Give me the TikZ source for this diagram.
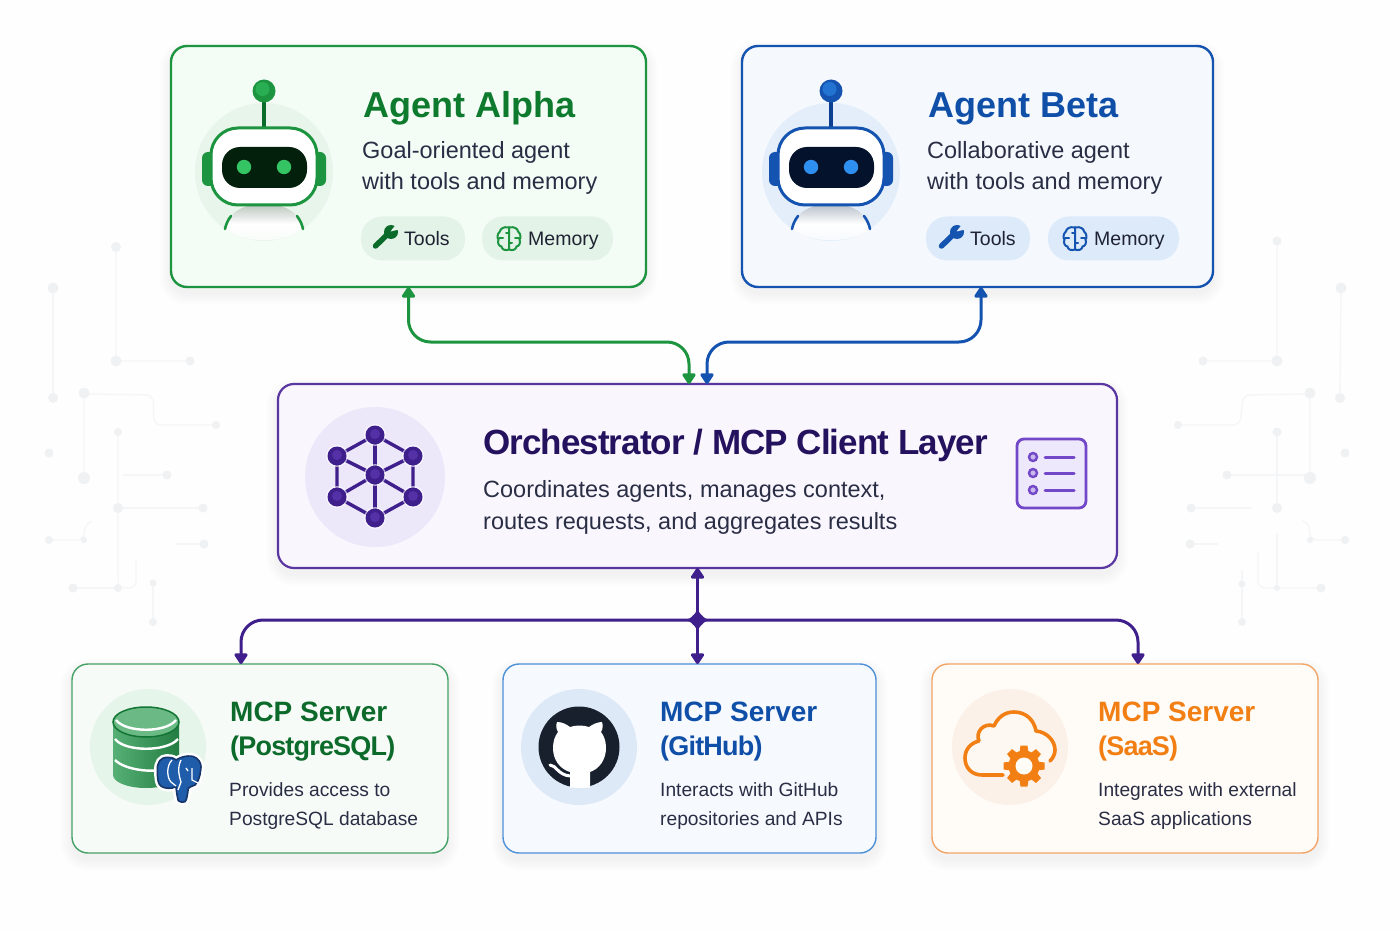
\documentclass[tikz,border=0pt]{standalone}
\usepackage{fontspec}
\setmainfont{Liberation Sans}
\newfontfamily\tightbold[LetterSpace=-2.7]{Liberation Sans}
\newfontfamily\tighterbold[LetterSpace=-3]{Liberation Sans}
\usetikzlibrary{arrows.meta,calc}
\newcommand{\fsz}[1]{\fontsize{#1}{#1}\selectfont}
\definecolor{bgc}{HTML}{FEFEFE}
\definecolor{circ}{HTML}{F5F6F7}
\definecolor{circd}{HTML}{F0F1F3}
\definecolor{gline}{HTML}{1C9440}
\definecolor{gtitle}{HTML}{0E7A2E}
\definecolor{gfill}{HTML}{F4FCF6}
\definecolor{gpill}{HTML}{E3F3E7}
\definecolor{gdisc}{HTML}{E8F5EB}
\definecolor{gdark}{HTML}{0B6B2B}
\definecolor{gbright}{HTML}{35C463}
\definecolor{bline}{HTML}{1553B0}
\definecolor{btitle}{HTML}{0F4FA8}
\definecolor{bfill}{HTML}{F5F9FE}
\definecolor{bpill}{HTML}{DCEAFA}
\definecolor{bdisc}{HTML}{E3EEFA}
\definecolor{bdark}{HTML}{0D3E8F}
\definecolor{bbright}{HTML}{2F8FF0}
\definecolor{pline}{HTML}{5A36A0}
\definecolor{pdark}{HTML}{3E1F8C}
\definecolor{ptitle}{HTML}{24125E}
\definecolor{pfill}{HTML}{F9F6FE}
\definecolor{pdisc}{HTML}{EDE7FA}
\definecolor{licon}{HTML}{7248C8}
\definecolor{lfill}{HTML}{EEE8FC}
\definecolor{sgline}{HTML}{45A066}
\definecolor{sgfill}{HTML}{F7FBF8}
\definecolor{sgdisc}{HTML}{E6F5EA}
\definecolor{sgt}{HTML}{0C6A2A}
\definecolor{dbg}{HTML}{2C9C52}
\definecolor{sbline}{HTML}{4C90D8}
\definecolor{sbfill}{HTML}{F6FAFE}
\definecolor{sbdisc}{HTML}{DDE9F7}
\definecolor{ghdark}{HTML}{18202E}
\definecolor{soline}{HTML}{F2A566}
\definecolor{sofill}{HTML}{FFFBF7}
\definecolor{sodisc}{HTML}{FCF1E8}
\definecolor{orange}{HTML}{F27F14}
\definecolor{body}{HTML}{2A2E45}
\definecolor{pillink}{HTML}{1E2233}
\definecolor{pgblue}{HTML}{1F5CAA}
\definecolor{pgnavy}{HTML}{15356B}
\tikzset{
  x=1pt,y=-1pt,
  panel/.style={draw,rounded corners=#1,inner sep=0,outer sep=0},
  txt/.style={anchor=base west,inner sep=0,text=body},
  pilltxt/.style={txt,text=pillink,font=\fsz{19.5}},
  sdesc/.style={txt,font=\fsz{19.2}},
  trace/.style={draw=circ,line width=1.4pt,rounded corners=7pt},
  pin/.style={fill=circd,draw=none},
  pillbox/.style={rounded corners=21pt,inner sep=0,draw=none},
  wire/.style={line width=3pt,rounded corners=22pt,{Triangle[length=12pt,width=15pt,round]}-{Triangle[length=12pt,width=15pt,round]}},
}
\newcommand{\boxnode}[8]{% name, x1,y1,x2,y2, border, fill, lw
  \foreach \k in {1,...,12}
    \fill[black,opacity=.005,rounded corners=16+\k] (#2-\k,#3+6-\k) rectangle (#4+\k,#5+6+\k);
  \node[panel=16pt,draw=#6,fill=#7,line width=#8,minimum width=#4pt-#2pt,minimum height=#5pt-#3pt,anchor=north west] (#1) at (#2,#3) {};}
\newcommand{\robotat}[6]{% x, disc, line, dark, bright, visor
  \begin{scope}[shift={(#1,172)}]
    \fill[#2] (0,0) circle[radius=69];
    \shade[top color=#2!80!black,bottom color=#2!40!white,middle color=white] (-39,57) .. controls (-36,40) and (-20,32) .. (0,32) .. controls (20,32) and (36,40) .. (39,57) .. controls (20,72) and (-20,72) .. (-39,57) -- cycle;
    \draw[#3,line width=2.6pt,line cap=round] (-39,57) .. controls (-38,52) and (-36,48) .. (-33,44);
    \draw[#3,line width=2.6pt,line cap=round] (39,57) .. controls (38,52) and (36,48) .. (33,44);
    \draw[#4,line width=4pt] (0,-78) -- (0,-44);
    \fill[#4] (-10,-44) arc[start angle=180,end angle=360,x radius=10,y radius=-8] -- cycle;
    \fill[#3] (0,-81) circle[radius=11.5];
    \fill[#5,opacity=.55] (-1.5,-83) circle[radius=7];
    \fill[#3,rounded corners=6pt] (-62,-20) rectangle (-46,14);
    \fill[#3,rounded corners=6pt] (46,-20) rectangle (62,14);
    \draw[#3,line width=3pt,fill=white,rounded corners=27pt] (-53,-44) rectangle (53,33);
    \fill[#6,rounded corners=18pt] (-42,-25) rectangle (43,16);
    \fill[#5] (-20,-5) circle[radius=7.2];
    \fill[#5] (20,-5) circle[radius=7.2];
  \end{scope}}
\newcommand{\wrenchat}[3]{% x, colour, pill
  \begin{scope}[shift={(#1,238)}]
    \draw[#2,line width=5.5pt,line cap=round] (-9.5,8) -- (5,-6);
    \fill[#2] (6,-6) circle[radius=7];
    \fill[#3] (5.5,-6.5) -- (12,-15) -- (16,-9) -- cycle;
  \end{scope}}
\newcommand{\brainat}[3]{% x, colour, pill
  \begin{scope}[shift={(#1,238.5)},#2,line width=2pt,line cap=round]
    \draw (0,-11) .. controls (-6,-12.5) and (-9,-9) .. (-9,-7) .. controls (-12,-5) and (-12,0) .. (-10.5,1)
       .. controls (-12,4) and (-10,8) .. (-7.5,8) .. controls (-7,11) and (-4,12.5) .. (0,11) -- cycle;
    \draw (0,-11) .. controls (6,-12.5) and (9,-9) .. (9,-7) .. controls (12,-5) and (12,0) .. (10.5,1)
       .. controls (12,4) and (10,8) .. (7.5,8) .. controls (7,11) and (4,12.5) .. (0,11);
    \draw (-10,0) -- (-6,0) (10,0) -- (6,0) (0,-5) -- (-3,-5) (0,5) -- (3,5);
  \end{scope}}
\begin{document}
\begin{tikzpicture}
\useasboundingbox (0,0) rectangle (1400,933);
\fill[bgc] (0,0) rectangle (1400,933);

% faint circuit traces, left
\draw[trace] (116,247) -- (116,361) -- (190,361);
\draw[trace] (53,288) -- (53,398);
\draw[trace] (84,478) -- (84,394) -- (153,395) -- (154,425) -- (216,425);
\draw[trace] (118,432) -- (118,588) -- (136,588) -- (136,560);
\draw[trace] (123,475) -- (167,475);
\draw[trace] (118,508) -- (203,508);
\draw[trace] (49,540) -- (84,540) -- (85,523) -- (90,522);
\draw[trace] (175,544) -- (204,544);
\draw[trace] (73,588) -- (118,588);
\draw[trace] (153,583) -- (153,622);
\foreach \px/\py/\pr in {116/247/5,116/361/5.5,190/361/4.5,53/288/5.5,53/398/5,84/393/5.5,216/425/4,84/478/6,49/453/4.5,118/432/4,167/475/4.5,118/508/5,203/508/4.5,49/540/4,84/540/3,204/544/4.5,73/588/4.5,118/588/4,153/583/3.5,153/622/4}
  \fill[pin] (\px,\py) circle[radius=\pr];
% faint circuit traces, right
\draw[trace] (1277,241) -- (1277,361) -- (1203,361);
\draw[trace] (1341,288) -- (1340,398);
\draw[trace] (1310,478) -- (1310,394) -- (1243,395) -- (1240,425) -- (1178,425);
\draw[trace] (1277,432) -- (1277,508);
\draw[trace] (1191,508) -- (1252,508);
\draw[trace] (1227,475) -- (1310,475);
\draw[trace] (1345,540) -- (1310,540) -- (1309,522) -- (1302,521);
\draw[trace] (1190,544) -- (1218,544);
\draw[trace] (1321,588) -- (1258,588) -- (1258,552);
\draw[trace] (1277,533) -- (1277,588);
\draw[trace] (1242,570) -- (1242,622);
\foreach \px/\py/\pr in {1277/241/4.5,1277/361/5.5,1203/361/4.5,1341/288/5.5,1340/398/5,1310/393/5.5,1178/425/4,1310/478/6,1345/453/4.5,1277/432/4.5,1227/475/4.5,1277/508/5,1191/508/4.5,1345/540/4,1310/540/3,1190/544/4.5,1321/588/4.5,1277/588/3,1242/584/3.5,1242/622/4}
  \fill[pin] (\px,\py) circle[radius=\pr];

% panels
\boxnode{alpha}{171}{46}{646}{287}{gline}{gfill}{2.4pt}
\boxnode{beta}{742}{46}{1213}{287}{bline}{bfill}{2.4pt}
\boxnode{orch}{278}{384}{1117}{568}{pline}{pfill}{2.2pt}
\boxnode{pg}{72}{664}{448}{853}{sgline}{sgfill}{1.4pt}
\boxnode{gh}{503}{664}{876}{853}{sbline}{sbfill}{1.4pt}
\boxnode{saas}{932}{664}{1318}{853}{soline}{sofill}{1.4pt}

% connector ends
\coordinate (ain) at (alpha.south);
\coordinate (bin) at (981,287);
\coordinate (og) at (689,384);
\coordinate (ob) at (707,384);
\coordinate (gbus) at (550,342);
\coordinate (bbus) at (850,342);
\coordinate (hub) at (697.5,620);
\coordinate (pgin) at (241,664);
\coordinate (ghin) at (697.5,664);
\coordinate (soin) at (1138,664);

% connectors
\draw[wire,gline] (ain) |- (gbus) -| (og);
\draw[wire,bline] (bin) |- (bbus) -| (ob);
\draw[wire,pdark] (pgin) |- (hub) -| (soin);
\draw[wire,pdark,line width=3.4pt] (orch.south) -- (ghin);
\fill[pdark,shift={(hub)}] (0,-13) .. controls (1,-6) and (6,-1) .. (13,0) .. controls (6,1) and (1,6) .. (0,13) .. controls (-1,6) and (-6,1) .. (-13,0) .. controls (-6,-1) and (-1,-6) .. (0,-13) -- cycle;
\fill[pdark] (hub) circle[radius=6.5];

% robots
\robotat{264}{gdisc}{gline}{gdark}{gbright}{black!70!gdark}
\robotat{831}{bdisc}{bline}{bdark}{bbright}{black!70!bdark}

% agent alpha text
\node[txt,text=gtitle,font=\bfseries\fsz{36}] (at) at (363,118) {Agent Alpha};
\node[txt,font=\fsz{23.5}] (ad1) at (362,159) {Goal-oriented agent};
\node[txt,font=\fsz{23.5}] (ad2) at (362,190) {with tools and memory};
\node[pillbox,fill=gpill,minimum width=104pt,minimum height=44pt] (ap1) at (413,238.5) {};
\node[pillbox,fill=gpill,minimum width=131pt,minimum height=44pt] (ap2) at (547.5,238.5) {};
\node[pilltxt] (at1) at (404,246) {Tools};
\node[pilltxt] (at2) at (528,246) {Memory};
\wrenchat{385}{gdark}{gpill}
\brainat{509}{gline}{gpill}

% agent beta text
\node[txt,text=btitle,font=\bfseries\fsz{36}] (bt) at (928,118) {Agent Beta};
\node[txt,font=\fsz{23.5}] (bd1) at (927,159) {Collaborative agent};
\node[txt,font=\fsz{23.5}] (bd2) at (927,190) {with tools and memory};
\node[pillbox,fill=bpill,minimum width=104pt,minimum height=44pt] (bp1) at (978,238.5) {};
\node[pillbox,fill=bpill,minimum width=131pt,minimum height=44pt] (bp2) at (1113.5,238.5) {};
\node[pilltxt] (bt1) at (970,246) {Tools};
\node[pilltxt] (bt2) at (1094,246) {Memory};
\wrenchat{951}{bline}{bpill}
\brainat{1075}{bline}{bpill}

% orchestrator
\fill[pdisc] (375,477) circle[radius=70];
\foreach \ex/\ey in {375/435,413/456,413/497,375/518,337/497,337/456}
  \draw[pdark,line width=3.4pt] (375,475) -- (\ex,\ey);
\draw[pdark,line width=3.4pt] (375,435) -- (413,456) -- (413,497) -- (375,518) -- (337,497) -- (337,456) -- cycle;
\foreach \ex/\ey in {375/435,413/456,413/497,375/518,337/497,337/456,375/475} {
  \fill[white,opacity=.6] (\ex,\ey) circle[radius=11];
  \fill[pdark] (\ex,\ey) circle[radius=9.5];
  \fill[licon,opacity=.45] (\ex,\ey-1) circle[radius=5];
}
\node[txt,text=ptitle,font=\tightbold\bfseries\fsz{35}] (ot) at (483,454) {Orchestrator / MCP Client Layer};
\node[txt,font=\fsz{23.5}] (od1) at (483,497) {Coordinates agents, manages context,};
\node[txt,font=\fsz{23.5}] (od2) at (483,529) {routes requests, and aggregates results};
\draw[licon,fill=lfill,line width=2.8pt,rounded corners=7pt] (1017,439) rectangle (1086,508);
\foreach \ly in {457,473,490} {
  \draw[licon,line width=2.4pt,fill=lfill!70!licon] (1033,\ly) circle[radius=4];
  \draw[licon,line width=3pt,line cap=round] (1045,\ly) -- (1074,\ly);
}

% postgres
\fill[sgdisc] (148,747) circle[radius=58];
\shade[left color=dbg!80!white,right color=dbg!80!black] (113,722) -- (113,775) arc[start angle=180,end angle=360,x radius=33,y radius=-13] -- (179,722) -- cycle;
\fill[dbg!70!white,draw=gdark!80!dbg,line width=1.5pt] (146,722) ellipse[x radius=33,y radius=15];
\draw[white,line width=2.4pt] (116,720) .. controls (126,733) and (166,733) .. (176,720);
\draw[white,line width=2.4pt] (115,739) .. controls (125,752) and (167,752) .. (178,739);
\draw[white,line width=2.4pt] (115,760) .. controls (125,770) and (150,772) .. (160,770);
\draw[white,line width=6.5pt,line join=round,fill=white] (157.3,770) .. controls (157,762) and (161,757.5) .. (166.7,757.3) .. controls (170,757) and (174,758) .. (176,760) .. controls (184,755) and (193,755) .. (196.7,758.3) .. controls (201,762) and (201.5,766) .. (200.7,770) .. controls (200,777) and (198,782) .. (195,785) .. controls (192,786) and (190,787) .. (188.3,788.3) .. controls (187.5,794) and (187,800) .. (185,801.7) .. controls (181,803) and (179,801) .. (178.3,800.7) .. controls (177,796) and (176.5,792) .. (176,786.7) .. controls (173,788) and (171,788.5) .. (168.3,788.3) .. controls (163,788) and (159,786) .. (158.3,781.7) .. controls (157.5,778) and (157.3,774) .. (157.3,770) -- cycle;
\draw[pgnavy,line width=1.6pt,line join=round,fill=pgblue] (157.3,770) .. controls (157,762) and (161,757.5) .. (166.7,757.3) .. controls (170,757) and (174,758) .. (176,760) .. controls (184,755) and (193,755) .. (196.7,758.3) .. controls (201,762) and (201.5,766) .. (200.7,770) .. controls (200,777) and (198,782) .. (195,785) .. controls (192,786) and (190,787) .. (188.3,788.3) .. controls (187.5,794) and (187,800) .. (185,801.7) .. controls (181,803) and (179,801) .. (178.3,800.7) .. controls (177,796) and (176.5,792) .. (176,786.7) .. controls (173,788) and (171,788.5) .. (168.3,788.3) .. controls (163,788) and (159,786) .. (158.3,781.7) .. controls (157.5,778) and (157.3,774) .. (157.3,770) -- cycle;
\draw[white,line width=1.3pt] (172,760) .. controls (166,766) and (167,778) .. (171,782) -- (176,786) (181,760) .. controls (177,768) and (179,776) .. (181,782) -- (178,790) (192,768) -- (192,780) -- (198,783) (186,768) -- (188,771);

\node[txt,text=sgt,font=\bfseries\fsz{28}] (pt1) at (230,721) {MCP Server};
\node[txt,text=sgt,font=\tighterbold\bfseries\fsz{27}] (pt2) at (230,755) {(PostgreSQL)};
\node[sdesc] (pd1) at (229,796) {Provides access to};
\node[sdesc] (pd2) at (229,825) {PostgreSQL database};

% github
\fill[sbdisc] (579,747) circle[radius=58];
\fill[ghdark] (579,747) circle[radius=40.5];
\fill[white] (570,787.5) -- (570,772) .. controls (560,769) and (553,760) .. (553,748) .. controls (553,741) and (555,736) .. (558,732) .. controls (556,729) and (556,725) .. (557,722) .. controls (562,722) and (566,724) .. (570,727) .. controls (576,725) and (583,725) .. (589,727) .. controls (593,724) and (598,722) .. (602,722) .. controls (603,725) and (603,729) .. (601,732) .. controls (604,736) and (606,741) .. (606,748) .. controls (606,760) and (599,769) .. (590,772) -- (590,787.5) .. controls (584,788) and (576,788) .. (570,787.5) -- cycle;
\draw[white,line width=3pt,line cap=round] (550,765) .. controls (556,765) and (558,775) .. (570,776);

% saas
\fill[sodisc] (1010,747) circle[radius=58];
\draw[orange,line width=3.6pt,line cap=round,line join=round,fill=sofill,fill opacity=.7] (1003,775) -- (982,775) .. controls (972,775) and (965,768) .. (965,758) .. controls (965,749) and (971,743) .. (979,741) .. controls (975,732) and (984,722) .. (994,726) .. controls (998,717) and (1005,712) .. (1014,712) .. controls (1026,712) and (1034,720) .. (1036,731) .. controls (1047,732) and (1055,741) .. (1055,750) .. controls (1055,754) and (1053,758) .. (1050,761);
\fill[orange] (1024,766) circle[radius=15.5];
\foreach \ang in {0,45,...,315}
  \fill[orange,shift={(1024,766)},rotate=\ang] (-4.5,-13) -- (-3.5,-20.5) -- (3.5,-20.5) -- (4.5,-13) -- cycle;
\fill[sofill] (1024,766) circle[radius=8.5];
\node[txt,text=orange,font=\bfseries\fsz{28}] (st1) at (1098,721) {MCP Server};
\node[txt,text=orange,font=\tighterbold\bfseries\fsz{27}] (st2) at (1098,755) {(SaaS)};
\node[sdesc] (sd1) at (1098,796) {Integrates with external};
\node[sdesc] (sd2) at (1098,825) {SaaS applications};

% github text
\node[txt,text=btitle,font=\bfseries\fsz{28}] (gt1) at (660,721) {MCP Server};
\node[txt,text=btitle,font=\tighterbold\bfseries\fsz{27}] (gt2) at (660,755) {(GitHub)};
\node[sdesc] (gd1) at (660,796) {Interacts with GitHub};
\node[sdesc] (gd2) at (660,825) {repositories and APIs};
\end{tikzpicture}
\end{document}
